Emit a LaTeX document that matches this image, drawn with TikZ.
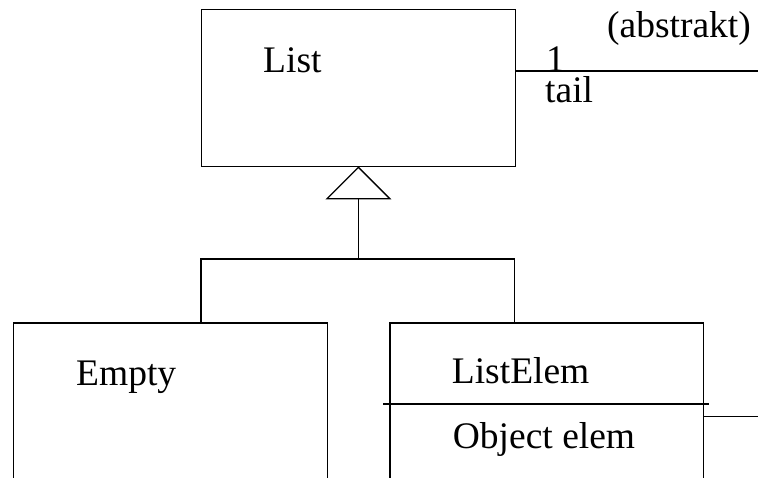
\documentclass[tikz,border=0pt]{standalone}
\usepackage{fontspec}
\setmainfont{Liberation Serif}
\begin{document}
\begin{tikzpicture}[x=1pt,y=-1pt,
  cls/.style={draw, line width=1.3pt, rectangle, inner sep=0pt, anchor=north west},
  conn/.style={draw, line width=1.3pt},
  txt/.style={inner sep=0pt, anchor=base west, font=\fontsize{37.5}{40}\selectfont}]
  % page frame
  \clip (0,0) rectangle (758,477);
  \fill[white] (0,0) rectangle (758,477);

  % classes
  \node[cls, minimum width=313.5pt, minimum height=157pt] (list) at (201,9) {};
  \node[cls, minimum width=314pt, minimum height=200pt] (empty) at (12.7,322.3) {};
  \node[cls, minimum width=313.5pt, minimum height=200pt] (elem) at (389.3,322.3) {};

  % class texts
  \node[txt] (tlist) at (263,72) {List};
  \node[txt] (tempty) at (76,385) {Empty};
  \node[txt] (telem) at (451.7,383) {ListElem};
  \node[txt] (tattr) at (452.7,448) {Object elem};

  % attribute separator of ListElem
  \coordinate (sepL) at (383.3,404);
  \coordinate (sepR) at (709,404);
  \draw[conn] (sepL) -- (sepR);

  % inheritance: triangle, trunk and branches
  \coordinate (tri) at ([yshift=-31.5pt]list.south);
  \draw[conn, fill=white] (list.south) -- ([xshift=-31.5pt]tri) -- ([xshift=31.5pt]tri) -- cycle;
  \coordinate (jl) at (201,259);
  \coordinate (jr) at (514.7,259);
  \draw[conn] (tri) -- (tri |- jl);
  \draw[conn] (empty.north -| jl) -- (jl) -- (jr) -- (elem.north -| jr);

  % tail association
  \coordinate (out1) at (758,71);
  \draw[conn] (out1 -| list.east) -- (out1);
  \node[txt] (mult) at (546,71) {1};
  \node[txt] (role) at (545,102) {tail};
  \node[txt] (abs) at (607,37) {(abstrakt)};

  % outgoing link of ListElem
  \coordinate (out2) at (758,416.7);
  \draw[conn] (out2 -| elem.east) -- (out2);
\end{tikzpicture}
\end{document}
